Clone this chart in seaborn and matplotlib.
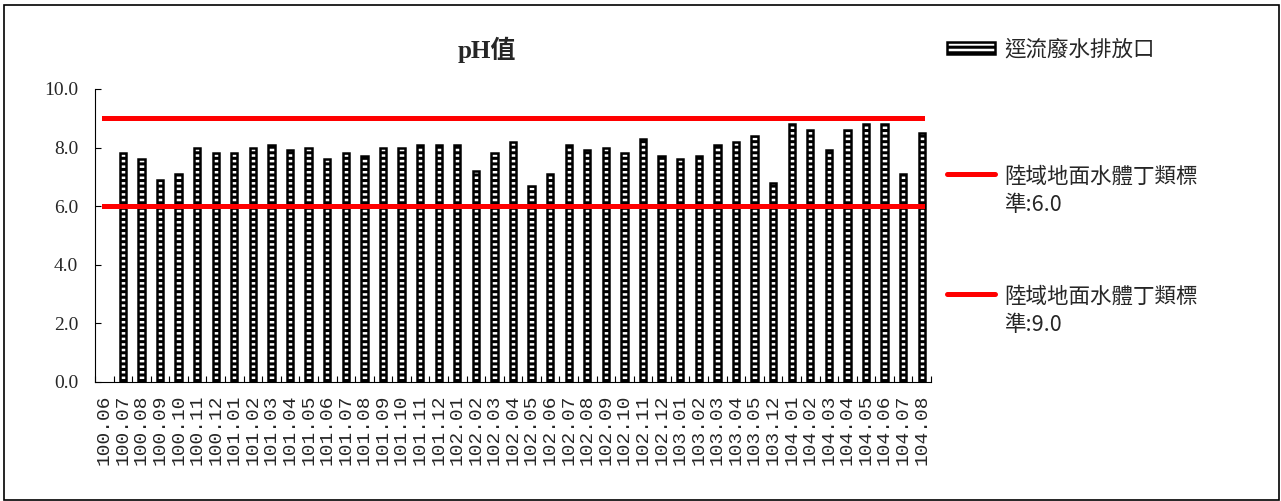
import matplotlib
matplotlib.use("Agg")
import matplotlib.pyplot as plt
from matplotlib.patches import Rectangle, Patch
from matplotlib.lines import Line2D
from matplotlib.ticker import FormatStrFormatter
import numpy as np
import pandas as pd
import seaborn as sns

# Sampling months (ROC year.month); 103.06-103.11 were not sampled
months = [
    "100.06", "100.07", "100.08", "100.09", "100.10", "100.11", "100.12",
    "101.01", "101.02", "101.03", "101.04", "101.05", "101.06",
    "101.07", "101.08", "101.09", "101.10", "101.11", "101.12",
    "102.01", "102.02", "102.03", "102.04", "102.05", "102.06",
    "102.07", "102.08", "102.09", "102.10", "102.11", "102.12",
    "103.01", "103.02", "103.03", "103.04", "103.05", "103.12",
    "104.01", "104.02", "104.03", "104.04", "104.05", "104.06",
    "104.07", "104.08",
]

# Months with a measured pH value (100.06 has no measurement)
ph_months = months[1:]
ph_values = [
    7.8, 7.6, 6.9, 7.1, 8.0, 7.8,
    7.8, 8.0, 8.1, 7.9, 8.0, 7.6,
    7.8, 7.7, 8.0, 8.0, 8.1, 8.1,
    8.1, 7.2, 7.8, 8.2, 6.7, 7.1,
    8.1, 7.9, 8.0, 7.8, 8.3, 7.7,
    7.6, 7.7, 8.1, 8.2, 8.4, 6.8,
    8.8, 8.6, 7.9, 8.6, 8.8, 8.8,
    7.1, 8.5,
]

std_low = 6.0
std_high = 9.0

title_text = "pH值"
bar_label = "逕流廢水排放口"
low_label = "陸域地面水體丁類標\n準:6.0"
high_label = "陸域地面水體丁類標\n準:9.0"
y_ticks = [0, 2, 4, 6, 8, 10]

sns.set_style("white")
plt.rcParams["font.family"] = ["Liberation Serif", "Noto Sans CJK TC"]
plt.rcParams["hatch.linewidth"] = 2.2

W, H = 1281, 501
fig = plt.figure(figsize=(W / 100, H / 100), dpi=100)
ax = fig.add_axes([95 / W, 1 - 381.7 / H, (931 - 95) / W, (381.7 - 89) / H])

df = pd.DataFrame({"month": ph_months, "ph": ph_values})
sns.barplot(
    data=df, x="month", y="ph", order=months, ax=ax,
    color="white", saturation=1, width=0.34, errorbar=None,
    edgecolor="black", linewidth=1.8, hatch="---",
)

# Class D inland surface water limits
ax.hlines([std_low, std_high], 0, len(months) - 1, colors="#ff0000",
          linewidth=3.6, capstyle="projecting", zorder=3)

ax.set_xlim(-0.5, len(months) - 0.5)
ax.set_ylim(y_ticks[0], y_ticks[-1])
ax.set_yticks(y_ticks)
ax.yaxis.set_major_formatter(FormatStrFormatter("%.1f"))
ax.set_xticks(range(len(months)))
ax.set_xticklabels(months, rotation=90, fontfamily="Liberation Mono", fontsize=14)
ax.set_xticks(np.arange(len(months) + 1) - 0.5, minor=True)
ax.set_xlabel("")
ax.set_ylabel("")

ax.tick_params(axis="x", which="major", length=0, pad=9)
ax.tick_params(axis="x", which="minor", direction="in", length=4.5, width=0.8,
               color="black", bottom=True)
ax.tick_params(axis="y", direction="in", length=4, width=0.8, color="black",
               pad=12, labelsize=14, left=True)
for lbl in ax.get_yticklabels():
    lbl.set_fontfamily("Liberation Serif")

for side in ("top", "right"):
    ax.spines[side].set_visible(False)
for side in ("left", "bottom"):
    ax.spines[side].set_color("black")
    ax.spines[side].set_linewidth(0.8)

fig.text(487 / W, 1 - 50 / H, title_text, ha="center", va="center",
         fontsize=18, fontweight="bold",
         family=["Liberation Serif", "Noto Sans CJK TC"])

legend_prop = {"family": ["Noto Sans CJK TC", "DejaVu Sans"], "size": 15.5}


def add_entry(handle, label, y_center, hh, top_align):
    leg = fig.legend(
        [handle], [label], loc="center left",
        bbox_to_anchor=(947 / W, 1 - y_center / H),
        frameon=False, borderpad=0, borderaxespad=0,
        handlelength=2.25, handleheight=hh, handletextpad=0.4,
        prop=legend_prop,
    )
    for t in leg.get_texts():
        t.set_linespacing(1.4)
    if top_align:
        for col in leg._legend_handle_box.get_children():
            for item in col.get_children():
                item.align = "top"
    return leg


bar_handle = Patch(facecolor="white", edgecolor="black", hatch="---", linewidth=1.8)
red_handle = Line2D([], [], color="#ff0000", linewidth=3.6)
add_entry(bar_handle, bar_label, 50, 0.5, False)
add_entry(red_handle, low_label, 191, 0.9, True)
add_entry(red_handle, high_label, 311, 0.9, True)

fig.add_artist(Rectangle((4 / W, 1 / H), (1279 - 4) / W, (496 - 1) / H,
                         transform=fig.transFigure, fill=False,
                         edgecolor="black", linewidth=1.2))

fig.savefig("out.png", dpi=100)
